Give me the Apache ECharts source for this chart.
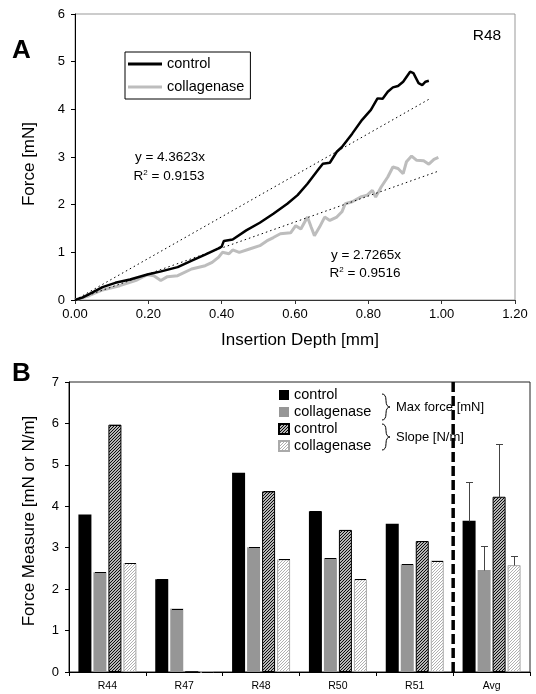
<!DOCTYPE html>
<html><head><meta charset="utf-8">
<script src="https://cdn.jsdelivr.net/npm/echarts@6/dist/echarts.min.js"></script>
<style>html,body{margin:0;padding:0;background:#fff}#c{width:536px;height:694px}</style>
</head><body><div id="c"></div>
<script>
// ---------- Panel A data ----------
const controlDepth = [0.00,0.02,0.04,0.075,0.11,0.15,0.20,0.235,0.28,0.32,0.355,0.39,0.40,0.406,0.43,0.467,0.504,0.541,0.579,0.607,0.634,0.662,0.676,0.695,0.714,0.728,0.756,0.783,0.807,0.825,0.839,0.853,0.867,0.881,0.895,0.914,0.923,0.937,0.947,0.956,0.965];
const controlForce = [0.00,0.05,0.13,0.27,0.36,0.43,0.54,0.60,0.69,0.83,0.95,1.08,1.12,1.24,1.27,1.46,1.62,1.81,2.02,2.20,2.44,2.72,2.86,2.88,3.11,3.21,3.49,3.78,3.99,4.23,4.22,4.37,4.46,4.49,4.58,4.79,4.76,4.55,4.51,4.58,4.60];
const collDepth = [0.00,0.038,0.075,0.122,0.169,0.197,0.215,0.234,0.252,0.28,0.318,0.355,0.374,0.392,0.402,0.42,0.43,0.448,0.476,0.504,0.523,0.541,0.56,0.588,0.602,0.616,0.634,0.644,0.653,0.667,0.681,0.695,0.714,0.728,0.737,0.756,0.779,0.797,0.811,0.82,0.835,0.853,0.867,0.881,0.895,0.904,0.918,0.932,0.951,0.965,0.979,0.991];
const collForce = [0.00,0.09,0.21,0.30,0.42,0.53,0.51,0.41,0.49,0.51,0.65,0.72,0.79,0.90,1.00,0.97,1.05,1.00,1.07,1.14,1.24,1.31,1.39,1.41,1.56,1.49,1.74,1.53,1.35,1.53,1.74,1.67,1.74,1.85,2.02,2.06,2.16,2.20,2.30,2.16,2.37,2.58,2.79,2.76,2.65,2.90,3.02,2.93,2.92,2.85,2.95,2.99];
const trendControl = [[0,0],[0.965,4.21]];
const trendColl = [[0,0],[0.99,2.70]];
const fitControl = ['y = 4.3623x', '0.9153'];
const fitColl = ['y = 2.7265x', '0.9516'];
const xTicksA = {min:0, max:1.2, interval:0.2};
const yTicksA = {min:0, max:6, interval:1};

// ---------- Panel B data ----------
const rats = ['R44','R47','R48','R50','R51','Avg'];
const maxControl = [3.80,2.24,4.81,3.88,3.58,3.65];
const maxColl    = [2.41,1.53,3.01,2.75,2.60,2.46];
const slopeControl = [5.97,0,4.36,3.43,3.16,4.23];
const slopeColl    = [2.63,0,2.72,2.24,2.69,2.58];
const errMaxControl = [0,0,0,0,0,0.94];
const errMaxColl    = [0,0,0,0,0,0.57];
const errSlopeControl = [0,0,0,0,0,1.27];
const errSlopeColl    = [0,0,0,0,0,0.22];
const dividerAt = 5;
const yTicksB = {min:0, max:7, interval:1};

const FONT = 'Liberation Sans, Arial, sans-serif';
const BAR_W = 13, BAR_GAP = 2;

function hatch(bg, fg, size, lw) {
  const c = document.createElement('canvas');
  c.width = size; c.height = size;
  const ctx = c.getContext('2d');
  ctx.fillStyle = bg; ctx.fillRect(0,0,size,size);
  ctx.strokeStyle = fg; ctx.lineWidth = lw;
  ctx.beginPath();
  ctx.moveTo(0,size); ctx.lineTo(size,0);
  ctx.moveTo(-1,1); ctx.lineTo(1,-1);
  ctx.moveTo(size-1,size+1); ctx.lineTo(size+1,size-1);
  ctx.stroke();
  return {image: c, repeat: 'repeat'};
}
const patDark = hatch('#ffffff', '#000000', 3, 1.1);
const patLight = hatch('#ffffff', '#b0b0b0', 3, 1);

const zip = (a,b) => a.map((v,i)=>[v,b[i]]);

function errSeries(k, name, vals, errs) {
  return {
    type:'custom', name: name + '_err', xAxisIndex:1, yAxisIndex:1, z:5,
    data: vals.map((v,i)=>[i, v, errs[i]]),
    renderItem: function(params, api) {
      const i = api.value(0), v = api.value(1), e = api.value(2);
      const base = api.coord([i, v]);
      const off = (k - 1.5) * (BAR_W + BAR_GAP);
      const x = Math.round(base[0] + off) + 0.5;
      const yb = Math.round(base[1]) + 0.5;
      const ch = [];
      if (e > 0) {
        const yt = Math.round(api.coord([i, v + e])[1]) + 0.5;
        ch.push({type:'line', shape:{x1:x,y1:yb,x2:x,y2:yt}, style:{stroke:'#444',lineWidth:1}});
        ch.push({type:'line', shape:{x1:x-3.5,y1:yt,x2:x+3.5,y2:yt}, style:{stroke:'#444',lineWidth:1}});
      } else {
        ch.push({type:'line', shape:{x1:x-BAR_W/2+1,y1:yb,x2:x+BAR_W/2-1,y2:yb}, style:{stroke:'#000',lineWidth:1}});
      }
      return {type:'group', children: ch};
    }
  };
}

function brace(x, y0, y1) {
  const ym = (y0 + y1) / 2, q = (y1 - y0) / 4;
  const st = {stroke:'#000', fill:null, lineWidth:1};
  return [
    {type:'bezierCurve', z:0, shape:{x1:x, y1:y0, x2:x+4, y2:y0+q, cpx1:x+4, cpy1:y0}, style:st},
    {type:'line', z:0, shape:{x1:x+4, y1:y0+q, x2:x+4, y2:ym-q}, style:st},
    {type:'bezierCurve', z:0, shape:{x1:x+4, y1:ym-q, x2:x+8, y2:ym, cpx1:x+4, cpy1:ym}, style:st},
    {type:'bezierCurve', z:0, shape:{x1:x+8, y1:ym, x2:x+4, y2:ym+q, cpx1:x+4, cpy1:ym}, style:st},
    {type:'line', z:0, shape:{x1:x+4, y1:ym+q, x2:x+4, y2:y1-q}, style:st},
    {type:'bezierCurve', z:0, shape:{x1:x+4, y1:y1-q, x2:x, y2:y1, cpx1:x+4, cpy1:y1}, style:st}
  ];
}

const chart = echarts.init(document.getElementById('c'), null, {renderer:'canvas'});
const axisLbl = {color:'#000', fontFamily:FONT, fontSize:13};
const titleStyle = {color:'#000', fontFamily:FONT, fontSize:17};
const rich2 = {s:{fontSize:8, verticalAlign:'top', padding:[0,0,7,0], fontFamily:FONT}};

chart.setOption({
  animation:false,
  backgroundColor:'#fff',
  textStyle:{fontFamily:FONT},
  grid:[
    {left:75, right:21, top:14, bottom:394, show:true, borderColor:'#999', borderWidth:1, backgroundColor:'transparent'},
    {left:69, right:6, top:382, bottom:22, show:true, borderColor:'#222', borderWidth:1, backgroundColor:'transparent'}
  ],
  xAxis:[
    {type:'value', gridIndex:0, min:xTicksA.min, max:xTicksA.max, interval:xTicksA.interval,
     name:'Insertion Depth [mm]', nameLocation:'middle', nameGap:32,
     nameTextStyle:Object.assign({padding:[0,0,0,10]}, titleStyle),
     axisLine:{show:true, lineStyle:{color:'#333', width:1}},
     axisTick:{show:true, inside:false, length:4, lineStyle:{color:'#333'}},
     axisLabel:Object.assign({margin:8, formatter:v=>v.toFixed(2)}, axisLbl),
     splitLine:{show:false}},
    {type:'category', gridIndex:1, data:rats, boundaryGap:true,
     axisLine:{show:true, lineStyle:{color:'#000', width:1}},
     axisTick:{show:true, inside:false, length:4, lineStyle:{color:'#000'}},
     axisLabel:{color:'#000', fontFamily:FONT, fontSize:10.5, margin:9},
     splitLine:{show:false}},
    {type:'value', gridIndex:1, min:0, max:rats.length, show:false}
  ],
  yAxis:[
    {type:'value', gridIndex:0, min:yTicksA.min, max:yTicksA.max, interval:yTicksA.interval,
     name:'Force [mN]', nameLocation:'middle', nameGap:37, nameRotate:90,
     nameTextStyle:Object.assign({padding:[0,14,0,0]}, titleStyle),
     axisLine:{show:true, lineStyle:{color:'#000', width:1}},
     axisTick:{show:true, inside:false, length:4, lineStyle:{color:'#000'}},
     axisLabel:Object.assign({margin:10}, axisLbl),
     splitLine:{show:false}},
    {type:'value', gridIndex:1, min:yTicksB.min, max:yTicksB.max, interval:yTicksB.interval,
     name:'Force Measure [mN or N/m]', nameLocation:'middle', nameGap:31, nameRotate:90,
     nameTextStyle:Object.assign({padding:[0,0,0,12]}, titleStyle),
     axisLine:{show:true, lineStyle:{color:'#000', width:1}},
     axisTick:{show:true, inside:false, length:4, lineStyle:{color:'#000'}},
     axisLabel:Object.assign({margin:10}, axisLbl),
     splitLine:{show:false}}
  ],
  legend:[
    {data:['control','collagenase'], orient:'vertical', left:125, top:52,
     padding:[4,6,4,3], itemGap:7, itemWidth:34, itemHeight:3, icon:'rect',
     borderColor:'#000', borderWidth:1, backgroundColor:'#fff',
     textStyle:{color:'#000', fontFamily:FONT, fontSize:14.5, lineHeight:16}, selectedMode:false},
    {data:['control (max)','collagenase (max)','control (slope)','collagenase (slope)'],
     orient:'vertical', left:278, top:387, padding:0, itemGap:1, itemWidth:10, itemHeight:10, icon:'rect',
     formatter:n=>n.split(' (')[0],
     textStyle:{color:'#000', fontFamily:FONT, fontSize:14.5, lineHeight:16}, selectedMode:false}
  ],
  graphic:[
    {type:'text', x:12, y:38, z:0, style:{text:'A', fill:'#000', font:'bold 26px '+FONT}},
    {type:'text', x:12, y:361, z:0, style:{text:'B', fill:'#000', font:'bold 26px '+FONT}},
    {type:'text', x:487, y:36, z:0, style:{text:'R48', fill:'#000', font:'15.5px '+FONT, align:'center', verticalAlign:'middle'}},
    {type:'text', x:170, y:157, z:0, style:{text:fitControl[0], fill:'#000', font:'13.5px '+FONT, align:'center', verticalAlign:'middle'}},
    {type:'text', x:169, y:176, z:0, style:{text:'R{s|2} = '+fitControl[1], fill:'#000', font:'13.5px '+FONT, align:'center', verticalAlign:'middle', rich:rich2}},
    {type:'text', x:366, y:255, z:0, style:{text:fitColl[0], fill:'#000', font:'13.5px '+FONT, align:'center', verticalAlign:'middle'}},
    {type:'text', x:365, y:273, z:0, style:{text:'R{s|2} = '+fitColl[1], fill:'#000', font:'13.5px '+FONT, align:'center', verticalAlign:'middle', rich:rich2}},
    ...brace(382, 394, 420),
    ...brace(382, 424, 450),
    {type:'text', x:396, y:407, z:0, style:{text:'Max force [mN]', fill:'#000', font:'13px '+FONT, verticalAlign:'middle'}},
    {type:'text', x:396, y:437, z:0, style:{text:'Slope [N/m]', fill:'#000', font:'13px '+FONT, verticalAlign:'middle'}}
  ],
  series:[
    {type:'line', name:'control', xAxisIndex:0, yAxisIndex:0, data:zip(controlDepth, controlForce),
     showSymbol:false, symbol:'none', lineStyle:{color:'#000', width:2.5}, itemStyle:{color:'#000'}, z:3},
    {type:'line', name:'collagenase', xAxisIndex:0, yAxisIndex:0, data:zip(collDepth, collForce),
     showSymbol:false, symbol:'none', lineStyle:{color:'#bdbdbd', width:3}, itemStyle:{color:'#bdbdbd'}, z:2},
    {type:'line', name:'trend control', xAxisIndex:0, yAxisIndex:0, data:trendControl,
     showSymbol:false, symbol:'none', lineStyle:{color:'#000', width:1, type:[1.5,3]}, z:4},
    {type:'line', name:'trend collagenase', xAxisIndex:0, yAxisIndex:0, data:trendColl,
     showSymbol:false, symbol:'none', lineStyle:{color:'#000', width:1, type:[1.5,3]}, z:4},

    {type:'bar', name:'control (max)', xAxisIndex:1, yAxisIndex:1, data:maxControl,
     barWidth:BAR_W, barGap:(BAR_GAP/BAR_W*100)+'%', itemStyle:{color:'#000'}},
    {type:'bar', name:'collagenase (max)', xAxisIndex:1, yAxisIndex:1, data:maxColl,
     barWidth:BAR_W, barGap:(BAR_GAP/BAR_W*100)+'%', itemStyle:{color:'#969696'}},
    {type:'bar', name:'control (slope)', xAxisIndex:1, yAxisIndex:1, data:slopeControl,
     barWidth:BAR_W, barGap:(BAR_GAP/BAR_W*100)+'%', itemStyle:{color:patDark, borderColor:'#000', borderWidth:1}},
    {type:'bar', name:'collagenase (slope)', xAxisIndex:1, yAxisIndex:1, data:slopeColl,
     barWidth:BAR_W, barGap:(BAR_GAP/BAR_W*100)+'%', itemStyle:{color:patLight, borderColor:'#aaa', borderWidth:1}},
    errSeries(0, 'control (max)', maxControl, errMaxControl),
    errSeries(1, 'collagenase (max)', maxColl, errMaxColl),
    errSeries(2, 'control (slope)', slopeControl, errSlopeControl),
    errSeries(3, 'collagenase (slope)', slopeColl, errSlopeColl),
    {type:'line', name:'divider', xAxisIndex:2, yAxisIndex:1, data:[[dividerAt, yTicksB.min],[dividerAt, yTicksB.max]],
     showSymbol:false, symbol:'none', lineStyle:{color:'#000', width:3.5, type:[10,4]}, z:6}
  ]
});
</script></body></html>
